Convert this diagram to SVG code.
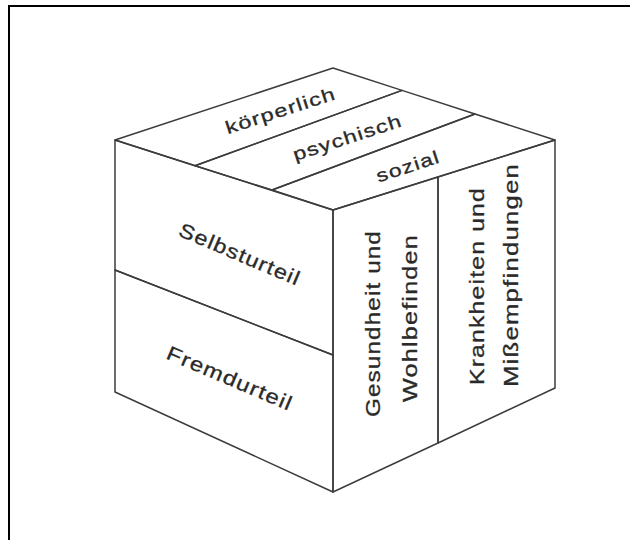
<svg xmlns="http://www.w3.org/2000/svg" width="630" height="540" viewBox="0 0 630 540">
<style>
.cell{fill:none;stroke:#3c3c3c;stroke-width:1.5;stroke-linejoin:round}
.t{font-family:"Liberation Sans",Arial,sans-serif;fill:#2a2a2a;text-anchor:middle;letter-spacing:1px;stroke:#2a2a2a;stroke-width:0.3}
.top{font-size:18px}
.lf{font-size:20px}
.rf{font-size:21px}
</style>
<rect x="9" y="6" width="640" height="560" fill="#fff" stroke="#000" stroke-width="2"/>
<g id="koerperlich">
<polygon class="cell" points="115,140 333,68 402,90.4 195,165.7"/>
<g transform="translate(281,112) rotate(-18)"><text class="t top" x="0" y="4.7" textLength="115" lengthAdjust="spacingAndGlyphs">körperlich</text></g>
</g>
<g id="psychisch">
<polygon class="cell" points="195,165.7 402,90.4 475,114 272,190"/>
<g transform="translate(348,139) rotate(-18)"><text class="t top" x="0" y="4.7" textLength="114" lengthAdjust="spacingAndGlyphs">psychisch</text></g>
</g>
<g id="sozial">
<polygon class="cell" points="272,190 475,114 555,140 333,210"/>
<g transform="translate(408,166) rotate(-18)"><text class="t top" x="0" y="6.5" textLength="66" lengthAdjust="spacingAndGlyphs">sozial</text></g>
</g>
<g id="selbsturteil">
<polygon class="cell" points="115,140 333,210 333,355 115,270"/>
<g transform="translate(240,254) rotate(23)"><text class="t lf" x="0" y="7.2" textLength="130" lengthAdjust="spacingAndGlyphs">Selbsturteil</text></g>
</g>
<g id="fremdurteil">
<polygon class="cell" points="115,270 333,355 333,492 115,392"/>
<g transform="translate(230,378) rotate(23)"><text class="t lf" x="0" y="7.2" textLength="135" lengthAdjust="spacingAndGlyphs">Fremdurteil</text></g>
</g>
<g id="gesundheit">
<polygon class="cell" points="333,210 438,177 438,443 333,492"/>
<g transform="translate(372.5,323.5) rotate(-90)"><text class="t rf" x="0" y="7.6" textLength="187" lengthAdjust="spacingAndGlyphs">Gesundheit und</text></g>
<g transform="translate(409,318) rotate(-90)"><text class="t rf" x="0" y="7.6" textLength="168" lengthAdjust="spacingAndGlyphs">Wohlbefinden</text></g>
</g>
<g id="krankheiten">
<polygon class="cell" points="438,177 555,140 555,388 438,443"/>
<g transform="translate(476,286) rotate(-90)"><text class="t rf" x="0" y="7.6" textLength="198" lengthAdjust="spacingAndGlyphs">Krankheiten und</text></g>
<g transform="translate(512.5,275) rotate(-90)"><text class="t rf" x="0" y="5.5" textLength="224" lengthAdjust="spacingAndGlyphs">Mißempfindungen</text></g>
</g>
<g id="connectors"></g>
</svg>
